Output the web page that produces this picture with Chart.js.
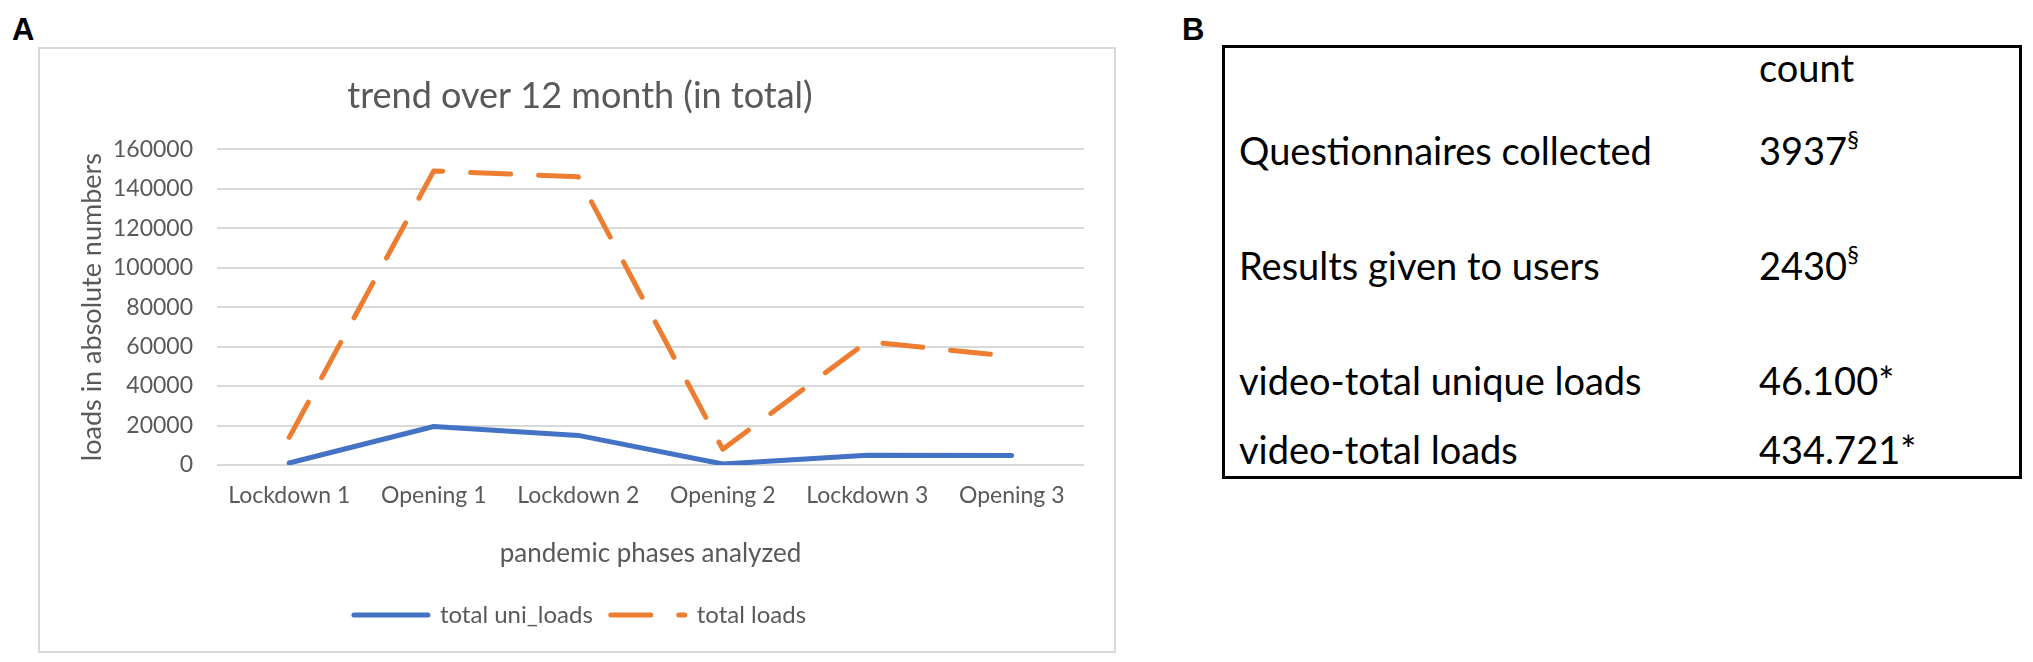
<!DOCTYPE html>
<html>
<head>
<meta charset="utf-8">
<script src="https://cdn.jsdelivr.net/npm/chart.js@4"></script>
<style>
  html, body { margin: 0; padding: 0; background: #fff; }
  body { width: 2033px; height: 662px; position: relative; overflow: hidden; font-family: Lato, sans-serif; }
  .panel-label { position: absolute; font-family: "Liberation Sans", Arial, sans-serif; font-weight: bold; font-size: 31px; line-height: 1; color: #000; }
  #chartBox { position: absolute; left: 38px; top: 47px; width: 1078px; height: 606px; border: 2px solid #d9d9d9; box-sizing: border-box; }
  #chartBox canvas { display: block; }
  #tableBox { position: absolute; left: 1222px; top: 45px; width: 800px; height: 434px; border: 3px solid #000; box-sizing: border-box; }
  .cell { position: absolute; font-size: 38px; line-height: 1; color: #000; white-space: nowrap; }
  .cell sup { font-size: 0.62em; position: relative; top: -0.12em; vertical-align: top; }
</style>
</head>
<body>
<div class="panel-label" style="left:12px; top:14px;">A</div>
<div class="panel-label" style="left:1182px; top:14px;">B</div>

<div id="chartBox"><canvas id="trendChart" width="1074" height="602"></canvas></div>

<div id="tableBox"></div>

<script>
const phases = ['Lockdown 1', 'Opening 1', 'Lockdown 2', 'Opening 2', 'Lockdown 3', 'Opening 3'];
const uniLoads = [1000, 19500, 15000, 500, 5000, 4800];
const totalLoads = [14000, 149000, 146000, 8000, 62500, 55000];
const yTicks = [0, 20000, 40000, 60000, 80000, 100000, 120000, 140000, 160000];

const tableRows = ['', 'Questionnaires collected', 'Results given to users', 'video-total unique loads', 'video-total loads'];
const tableCounts = ['count', '3937', '2430', '46.100*', '434.721*'];
const tableMarks = ['', '§', '§', '', ''];
const rowTops = [0, 83, 198, 313, 382];

const grey = '#595959';
const font = 'Lato';

function buildTable() {
    const box = document.getElementById('tableBox');
    tableRows.forEach((label, i) => {
        const left = document.createElement('div');
        left.className = 'cell';
        left.style.left = '14px';
        left.style.top = rowTops[i] + 'px';
        left.textContent = label;
        box.appendChild(left);

        const right = document.createElement('div');
        right.className = 'cell';
        right.style.left = '534px';
        right.style.top = rowTops[i] + 'px';
        right.textContent = tableCounts[i];
        if (tableMarks[i]) {
            const sup = document.createElement('sup');
            sup.textContent = tableMarks[i];
            right.appendChild(sup);
        }
        box.appendChild(right);
    });
}

function buildChart() {
    const ctx = document.getElementById('trendChart').getContext('2d');
    new Chart(ctx, {
        type: 'line',
        data: {
            labels: phases,
            datasets: [
                {
                    label: 'total uni_loads',
                    data: uniLoads,
                    borderColor: '#4472c4',
                    backgroundColor: '#4472c4',
                    borderWidth: 5,
                    borderCapStyle: 'round',
                    borderJoinStyle: 'round',
                    pointRadius: 0,
                    tension: 0
                },
                {
                    label: 'total loads',
                    data: totalLoads,
                    borderColor: '#ed7d31',
                    backgroundColor: '#ed7d31',
                    borderWidth: 5,
                    borderDash: [40, 28],
                    borderCapStyle: 'round',
                    borderJoinStyle: 'round',
                    pointRadius: 0,
                    tension: 0
                }
            ]
        },
        options: {
            responsive: false,
            animation: false,
            layout: { padding: { left: 36, right: 30, top: 0, bottom: 14 } },
            plugins: {
                title: {
                    display: true,
                    text: 'trend over 12 month (in total)',
                    color: grey,
                    font: { family: font, size: 36, weight: 'normal' },
                    padding: { top: 26, bottom: 31 }
                },
                legend: {
                    position: 'bottom',
                    labels: {
                        color: grey,
                        font: { family: font, size: 24 },
                        usePointStyle: true,
                        pointStyle: 'line',
                        pointStyleWidth: 74,
                        padding: 18,
                        generateLabels: chart => {
                            const items = Chart.defaults.plugins.legend.labels.generateLabels(chart);
                            items.forEach(item => {
                                const ds = chart.data.datasets[item.datasetIndex];
                                item.lineDash = ds.borderDash || [];
                                item.lineWidth = ds.borderWidth;
                                item.lineCap = 'round';
                                item.strokeStyle = ds.borderColor;
                            });
                            return items;
                        }
                    }
                },
                tooltip: { enabled: false }
            },
            scales: {
                x: {
                    offset: true,
                    grid: { display: false },
                    border: { display: false },
                    ticks: { color: grey, font: { family: font, size: 23 }, padding: 9, maxRotation: 0 },
                    title: {
                        display: true,
                        text: 'pandemic phases analyzed',
                        color: grey,
                        font: { family: font, size: 26 },
                        padding: { top: 0, bottom: 16 }
                    },
                    afterFit: axis => { axis.height = 120; }
                },
                y: {
                    min: 0,
                    max: 160000,
                    afterBuildTicks: axis => { axis.ticks = yTicks.map(v => ({ value: v })); },
                    grid: { color: '#d9d9d9', lineWidth: 2, drawTicks: false },
                    border: { display: false },
                    ticks: { color: grey, font: { family: font, size: 23 }, padding: 24, callback: v => String(v) },
                    title: {
                        display: true,
                        text: 'loads in absolute numbers',
                        color: grey,
                        font: { family: font, size: 27 },
                        padding: { top: 0, bottom: 0 }
                    },
                    afterFit: axis => { axis.width = 141; }
                }
            }
        }
    });
}

buildTable();
buildChart();
</script>
</body>
</html>
